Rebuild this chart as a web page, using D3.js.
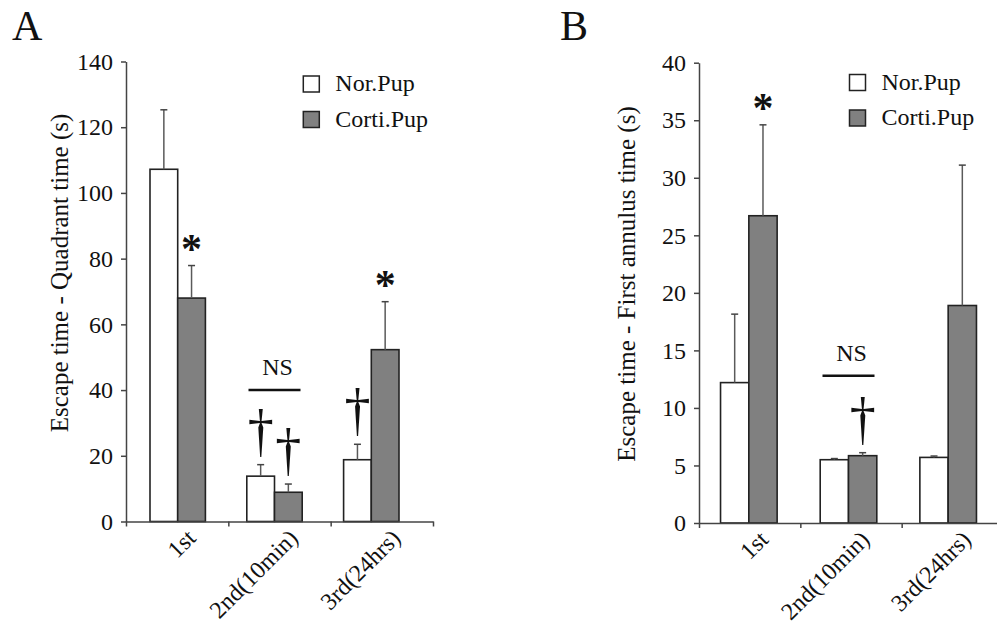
<!DOCTYPE html>
<html lang="en">

<head>
    <meta charset="UTF-8">
    <title>Escape time</title>
    <style>
        body { margin: 0; background: #fff; }
        svg text { font-family: "Liberation Serif", "Times New Roman", serif; fill: #111; }
    </style>
</head>

<body>
    <script src="https://d3js.org/d3.v7.min.js"></script>
    <script>
        // Data
        const categories = ["1st", "2nd(10min)", "3rd(24hrs)"];
        const series = ["Nor.Pup", "Corti.Pup"];
        const seriesFill = ["#ffffff", "#808080"];

        // Panel A: quadrant time
        const quadNor = [107.2, 13.8, 18.8];
        const quadNorErr = [18.1, 3.5, 4.7];
        const quadCorti = [68.0, 8.9, 52.3];
        const quadCortiErr = [9.9, 2.5, 14.6];
        const quadTicks = [0, 20, 40, 60, 80, 100, 120, 140];

        // Panel B: first annulus time
        const annNor = [12.2, 5.5, 5.7];
        const annNorErr = [5.95, 0.1, 0.12];
        const annCorti = [26.7, 5.85, 18.9];
        const annCortiErr = [7.9, 0.26, 12.2];
        const annTicks = [0, 5, 10, 15, 20, 25, 30, 35, 40];

        // significance marks: [category index, series index]
        const quadStars = [[0, 1], [2, 1]];
        const quadDaggers = [[1, 0], [1, 1], [2, 0]];
        const annStars = [[0, 1]];
        const annDaggers = [[1, 1]];

        const svg = d3.select("body")
            .append("svg")
            .attr("width", 997)
            .attr("height", 629);

        function drawPanel(p) {
            const g = svg.append("g");
            const y = d3.scaleLinear().domain([0, p.yMax]).range([p.bottom, p.top]);
            // axis bands (tick marks sit on band edges)
            const xBand = d3.scaleBand().domain(categories).range([p.left, p.right]);
            const xEdge = d3.scaleLinear().domain([0, categories.length]).range([p.left, p.right]);
            // bar groups
            const xGroup = d3.scaleBand().domain(categories).range(p.groupRange);
            const xSeries = d3.scaleBand().domain(series).range([-p.barW, p.barW]);

            const values = [p.nor, p.corti];
            const errs = [p.norErr, p.cortiErr];
            const rows = [];
            categories.forEach((c, i) => {
                series.forEach((s, j) => {
                    rows.push({ cat: c, s: s, j: j, v: values[j][i], e: errs[j][i] });
                });
            });
            const barX = d => xGroup(d.cat) + xGroup.bandwidth() / 2 + xSeries(d.s);
            const barMid = d => barX(d) + xSeries.bandwidth() / 2;

            // bars
            g.selectAll("rect.bar")
                .data(rows)
                .enter()
                .append("rect")
                .attr("class", "bar")
                .attr("x", barX)
                .attr("y", d => y(d.v))
                .attr("width", xSeries.bandwidth())
                .attr("height", d => y(0) - y(d.v))
                .attr("fill", d => seriesFill[d.j])
                .attr("stroke", "#222")
                .attr("stroke-width", 1.6);

            // error bars
            g.selectAll("line.err")
                .data(rows)
                .enter()
                .append("line")
                .attr("x1", barMid).attr("x2", barMid)
                .attr("y1", d => y(d.v)).attr("y2", d => y(d.v + d.e))
                .attr("stroke", "#5a5a5a").attr("stroke-width", 1.5);
            g.selectAll("line.cap")
                .data(rows)
                .enter()
                .append("line")
                .attr("x1", d => barMid(d) - 3.5).attr("x2", d => barMid(d) + 3.5)
                .attr("y1", d => y(d.v + d.e)).attr("y2", d => y(d.v + d.e))
                .attr("stroke", "#444").attr("stroke-width", 1.5);

            // y axis
            const yAxis = g.append("g")
                .attr("transform", "translate(" + p.left + ",0)")
                .call(d3.axisLeft(y).tickValues(p.yTicks).tickSize(5).tickSizeOuter(0).tickPadding(8));
            yAxis.attr("font-size", 24).attr("font-family", null);
            yAxis.selectAll("path, line").attr("stroke", "#444").attr("stroke-width", 1.5);

            // x axis line + edge ticks
            const xAxis = g.append("g")
                .attr("transform", "translate(0," + p.bottom + ")")
                .call(d3.axisBottom(xEdge).tickValues(d3.range(categories.length + 1)).tickFormat("").tickSize(5).tickSizeOuter(0));
            xAxis.selectAll("path, line").attr("stroke", "#444").attr("stroke-width", 1.5);

            // x labels, rotated
            const xLab = g.append("g")
                .attr("transform", "translate(0," + p.bottom + ")")
                .call(d3.axisBottom(xBand).tickSize(0));
            xLab.select(".domain").remove();
            xLab.attr("font-size", 24).attr("font-family", null);
            xLab.selectAll("text")
                .attr("x", 0).attr("y", 0).attr("dy", null)
                .attr("text-anchor", "end")
                .attr("transform", "translate(20,18) rotate(-45)");

            // y title
            g.append("text")
                .attr("transform", "translate(" + p.titleX + "," + p.titleY + ") rotate(-90)")
                .attr("text-anchor", "middle")
                .attr("font-size", 25)
                .text(p.title);

            // panel letter
            g.append("text")
                .attr("x", p.letterX).attr("y", 40)
                .attr("font-size", 42)
                .text(p.letter);

            // legend
            const leg = g.selectAll("g.leg")
                .data(series)
                .enter()
                .append("g")
                .attr("transform", (d, i) => "translate(" + p.legX + "," + (p.legY + i * 35.5) + ")");
            leg.append("rect")
                .attr("width", 16).attr("height", 16)
                .attr("fill", (d, i) => seriesFill[i])
                .attr("stroke", "#222").attr("stroke-width", 1.5);
            leg.append("text")
                .attr("x", 32).attr("y", 15)
                .attr("font-size", 24)
                .text(d => d);

            // NS bracket over second group
            const nsX = xGroup(categories[1]) + xGroup.bandwidth() / 2;
            g.append("line")
                .attr("x1", nsX - 26).attr("x2", nsX + 26)
                .attr("y1", y(p.nsY)).attr("y2", y(p.nsY))
                .attr("stroke", "#111").attr("stroke-width", 2.6);
            g.append("text")
                .attr("x", nsX + 3).attr("y", y(p.nsY) - 15)
                .attr("text-anchor", "middle")
                .attr("font-size", 24)
                .text("NS");

            const pick = m => rows[m[0] * series.length + m[1]];
            // asterisks
            g.selectAll("text.star")
                .data(p.stars.map(pick))
                .enter()
                .append("text")
                .attr("x", barMid)
                .attr("y", d => y(d.v + d.e) - 3)
                .attr("text-anchor", "middle")
                .attr("font-size", 42)
                .attr("font-weight", "bold")
                .text("*");
            // daggers (stretched a little, like the original)
            g.selectAll("text.dag")
                .data(p.daggers.map(pick))
                .enter()
                .append("text")
                .attr("transform", d => "translate(" + barMid(d) + "," + (y(d.v + d.e) - 15) + ") scale(1,1.13)")
                .attr("text-anchor", "middle")
                .attr("font-size", 52)
                .text("\u2020");
        }

        drawPanel({
            letter: "A", letterX: 12,
            title: "Escape time - Quadrant time (s)", titleX: 68, titleY: 273,
            yMax: 140, yTicks: quadTicks, top: 61.5, bottom: 521.5,
            left: 126, right: 433, groupRange: [129.3, 419.7], barW: 27.7,
            nor: quadNor, norErr: quadNorErr, corti: quadCorti, cortiErr: quadCortiErr,
            legX: 303.3, legY: 76, nsY: 40,
            stars: quadStars, daggers: quadDaggers
        });

        drawPanel({
            letter: "B", letterX: 560,
            title: "Escape time - First annulus time (s)", titleX: 635, titleY: 284,
            yMax: 40, yTicks: annTicks, top: 62.7, bottom: 523,
            left: 699, right: 1003, groupRange: [699, 998], barW: 28.3,
            nor: annNor, norErr: annNorErr, corti: annCorti, cortiErr: annCortiErr,
            legX: 849.5, legY: 74.5, nsY: 12.8,
            stars: annStars, daggers: annDaggers
        });
    </script>
</body>

</html>
